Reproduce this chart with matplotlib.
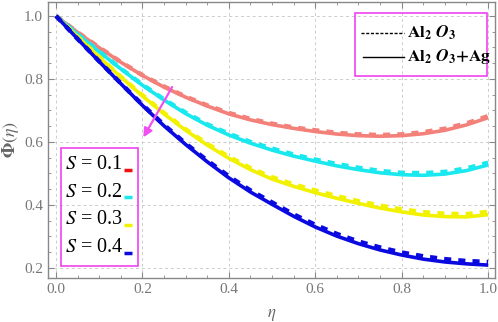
import matplotlib
matplotlib.use("Agg")
import matplotlib.pyplot as plt
from matplotlib.ticker import MultipleLocator

eta = [0.0, 0.05, 0.1, 0.15, 0.2, 0.25, 0.3, 0.35, 0.4, 0.45, 0.5,
       0.55, 0.6, 0.65, 0.7, 0.75, 0.8, 0.85, 0.9, 0.95, 1.0]
S_labels = ["0.1", "0.2", "0.3", "0.4"]
# Al2O3+Ag (solid)
phi_hybrid_s1 = [1.0, 0.948, 0.899, 0.853, 0.811, 0.774, 0.742, 0.714, 0.689, 0.670, 0.655,
                 0.643, 0.633, 0.625, 0.620, 0.618, 0.620, 0.626, 0.637, 0.654, 0.677]
phi_hybrid_s2 = [1.0, 0.942, 0.886, 0.832, 0.780, 0.733, 0.690, 0.653, 0.622, 0.596, 0.574,
                 0.555, 0.539, 0.524, 0.512, 0.502, 0.496, 0.494, 0.498, 0.509, 0.527]
phi_hybrid_s3 = [1.0, 0.934, 0.869, 0.806, 0.746, 0.689, 0.637, 0.590, 0.548, 0.512, 0.482,
                 0.459, 0.439, 0.421, 0.405, 0.390, 0.378, 0.368, 0.363, 0.362, 0.369]
phi_hybrid_s4 = [1.0, 0.927, 0.855, 0.785, 0.716, 0.651, 0.592, 0.537, 0.486, 0.441, 0.402,
                 0.364, 0.330, 0.301, 0.277, 0.257, 0.241, 0.228, 0.219, 0.213, 0.209]
# Al2O3 (dashed)
phi_mono_s1 = [1.0, 0.948, 0.900, 0.854, 0.812, 0.776, 0.744, 0.716, 0.692, 0.673, 0.658,
               0.646, 0.637, 0.629, 0.624, 0.622, 0.624, 0.631, 0.642, 0.659, 0.682]
phi_mono_s2 = [1.0, 0.942, 0.887, 0.833, 0.782, 0.735, 0.693, 0.656, 0.626, 0.600, 0.579,
               0.560, 0.544, 0.530, 0.518, 0.508, 0.502, 0.501, 0.505, 0.516, 0.534]
phi_mono_s3 = [1.0, 0.934, 0.870, 0.807, 0.748, 0.692, 0.640, 0.594, 0.553, 0.517, 0.488,
               0.465, 0.446, 0.428, 0.412, 0.398, 0.386, 0.377, 0.372, 0.371, 0.378]
phi_mono_s4 = [1.0, 0.927, 0.856, 0.786, 0.718, 0.654, 0.595, 0.541, 0.491, 0.446, 0.408,
               0.370, 0.337, 0.308, 0.284, 0.265, 0.249, 0.237, 0.228, 0.222, 0.219]

phi_hybrid = [phi_hybrid_s1, phi_hybrid_s2, phi_hybrid_s3, phi_hybrid_s4]
phi_mono = [phi_mono_s1, phi_mono_s2, phi_mono_s3, phi_mono_s4]
colors = ["#F4807A", "#19E8EE", "#F2F200", "#0A0AE0"]
legend_dash_colors = ["#F01010", "#19E8EE", "#F2F200", "#0A0AE0"]

plt.rcParams['font.family'] = ['Liberation Serif', 'DejaVu Serif']
plt.rcParams['mathtext.fontset'] = 'stix'

fig = plt.figure(figsize=(4.98, 3.22), dpi=100)
ax = fig.add_axes([0.0964, 0.1366, 0.8976, 0.857])

for i in range(4):
    ax.plot(eta, phi_hybrid[i], color=colors[i], lw=2.6, solid_capstyle='butt',
            solid_joinstyle='round')
    ax.plot(eta, phi_mono[i], color=colors[i], lw=3.2, linestyle=(0, (1.6, 1.6)))

ax.set_xlim(-0.0185, 1.016)
ax.set_ylim(0.168, 1.044)
ax.xaxis.set_major_locator(MultipleLocator(0.2))
ax.yaxis.set_major_locator(MultipleLocator(0.2))
ax.xaxis.set_minor_locator(MultipleLocator(0.05))
ax.yaxis.set_minor_locator(MultipleLocator(0.05))
ax.tick_params(which='both', direction='in', top=True, right=True, colors='#888888',
               labelcolor='#777777', labelsize=11)
ax.tick_params(which='major', length=4, width=0.8)
ax.tick_params(which='minor', length=2, width=0.6)
for sp in ax.spines.values():
    sp.set_color('#888888')
    sp.set_linewidth(1.0)
ax.grid(True, which='major', linestyle=(0, (3, 3)), color='#cccccc', lw=0.7)
ax.set_axisbelow(True)

ax.set_xlabel(r'$\eta$', fontsize=12, color='#666666', labelpad=8)
ax.set_ylabel(r'$\mathbf{\Phi}(\eta)$', fontsize=13, color='#666666', labelpad=2)

# arrow
ax.annotate('', xy=(0.199, 0.607), xytext=(0.272, 0.782),
            arrowprops=dict(arrowstyle='-|>', color='#F050F0', lw=1.6,
                            mutation_scale=13))

# S legend box
ax.add_patch(plt.Rectangle((0.012, 0.205), 0.177, 0.377, transform=ax.transData,
                           fill=False, edgecolor='#EE44EE', lw=1.2, zorder=5))
ys = [0.527, 0.441, 0.353, 0.265]
for i in range(4):
    ax.text(0.020, ys[i], r'$S$ = ' + S_labels[i], fontsize=14.5, va='center',
            ha='left', color='black', zorder=6)
    ax.plot([0.157, 0.177], [ys[i] - 0.017, ys[i] - 0.017], color=legend_dash_colors[i],
            lw=2.5, solid_capstyle='butt', zorder=6)

# material legend box
ax.add_patch(plt.Rectangle((0.692, 0.81), 0.306, 0.20, transform=ax.transData,
                           fill=False, edgecolor='#EE44EE', lw=1.2, zorder=5))
ax.plot([0.705, 0.806], [0.946, 0.946], color='black', lw=1.0, linestyle=(0, (2.2, 1.2)), zorder=6)
ax.plot([0.71, 0.806], [0.870, 0.870], color='black', lw=1.0, zorder=6)
ax.text(0.813, 0.946, r'$\mathbf{Al_2\ }\boldsymbol{O}_\mathbf{3}$', fontsize=12.5, va='center', zorder=6)
ax.text(0.813, 0.870, r'$\mathbf{Al_2\ }\boldsymbol{O}_\mathbf{3}\mathbf{+Ag}$', fontsize=12.5, va='center', zorder=6)

fig.savefig('out.png', dpi=100)
